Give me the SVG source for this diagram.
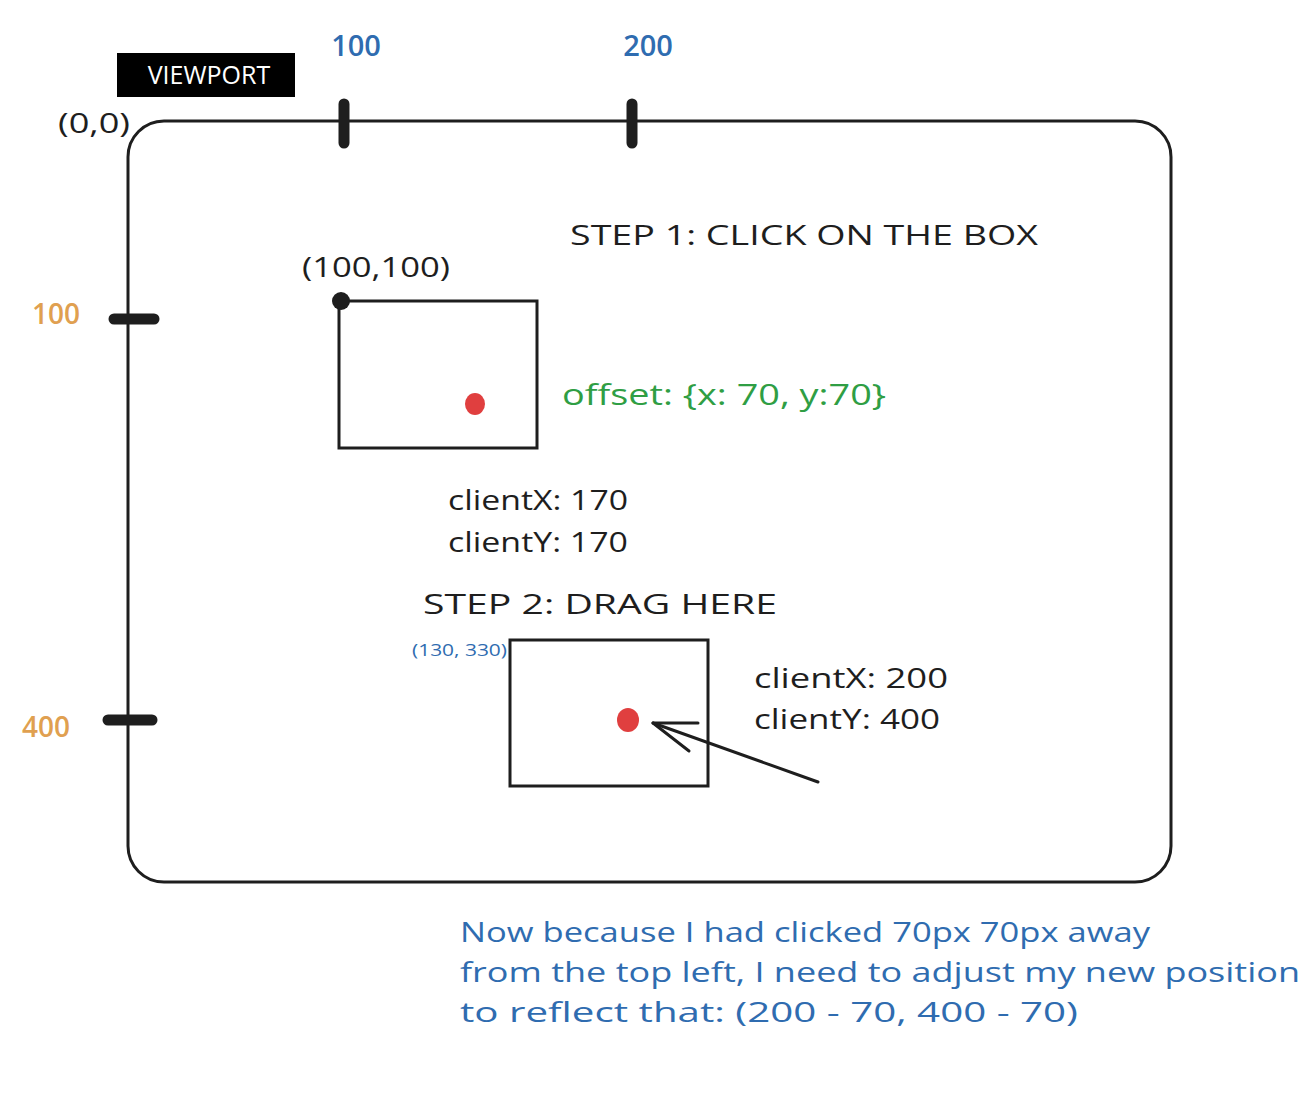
<svg xmlns="http://www.w3.org/2000/svg" width="1316" height="1094" viewBox="0 0 1316 1094">
<style>
text{font-family:"Open Sans","Liberation Sans",sans-serif;}
.k{fill:#1e1e1e;font-size:28px;}
.b{fill:#2f6cb0;}
.o{fill:#e0a050;font-size:28px;font-weight:600;}
.g{fill:#2f9e44;font-size:30px;}
.frame{fill:none;stroke:#1e1e1e;stroke-width:3;}
.tick{stroke:#1e1e1e;stroke-width:11;stroke-linecap:round;}
.box{fill:#fff;stroke:#1e1e1e;stroke-width:3;}
.red{fill:#e03f3f;}
</style>
<rect width="1316" height="1094" fill="#fff"/>
<g id="viewport">
<rect class="frame" x="128" y="121" width="1043" height="761" rx="36"/>
<line class="tick" x1="344" y1="104" x2="344" y2="143"/>
<line class="tick" x1="632" y1="104" x2="632" y2="143"/>
<line class="tick" x1="114" y1="319" x2="154" y2="319"/>
<line class="tick" x1="108" y1="720" x2="152" y2="720"/>
</g>
<g id="label-viewport">
<rect x="117" y="53" width="178" height="44" fill="#000"/>
<text x="209" y="84" fill="#fff" font-size="25" font-weight="500" text-anchor="middle">VIEWPORT</text>
</g>
<g id="axis-labels">
<text class="b" x="356" y="56" font-size="29" font-weight="600" text-anchor="middle">100</text>
<text class="b" x="648" y="56" font-size="29" font-weight="600" text-anchor="middle">200</text>
<text class="o" x="56" y="324" text-anchor="middle">100</text>
<text class="o" x="46" y="737" text-anchor="middle">400</text>
<text class="k" x="58" y="133" font-size="26" textLength="72" lengthAdjust="spacingAndGlyphs">(0,0)</text>
</g>
<g id="step1">
<text class="k" x="570" y="245" textLength="468" lengthAdjust="spacingAndGlyphs">STEP 1: CLICK ON THE BOX</text>
</g>
<g id="box1">
<rect class="box" x="339" y="301" width="198" height="147"/>
<circle cx="341" cy="301" r="9" fill="#1e1e1e"/>
<ellipse class="red" cx="475" cy="404" rx="10" ry="11"/>
<text class="k" x="302" y="277" textLength="148" lengthAdjust="spacingAndGlyphs">(100,100)</text>
</g>
<g id="offset">
<text class="g" x="562" y="405" textLength="324" lengthAdjust="spacingAndGlyphs">offset: {x: 70, y:70}</text>
</g>
<g id="client1">
<text class="k" x="448" y="510" textLength="180" lengthAdjust="spacingAndGlyphs">clientX: 170</text>
<text class="k" x="448" y="552" textLength="180" lengthAdjust="spacingAndGlyphs">clientY: 170</text>
</g>
<g id="step2">
<text class="k" x="423" y="614" textLength="354" lengthAdjust="spacingAndGlyphs">STEP 2: DRAG HERE</text>
</g>
<g id="box2">
<rect class="box" x="510" y="640" width="198" height="146"/>
<ellipse class="red" cx="628" cy="720" rx="11" ry="12"/>
<text class="b" x="412" y="656" font-size="16" textLength="95" lengthAdjust="spacingAndGlyphs">(130, 330)</text>
</g>
<g id="client2">
<text class="k" x="754" y="688" textLength="194" lengthAdjust="spacingAndGlyphs">clientX: 200</text>
<text class="k" x="754" y="729" textLength="186" lengthAdjust="spacingAndGlyphs">clientY: 400</text>
</g>
<g id="connectors" fill="none" stroke="#1e1e1e" stroke-width="3" stroke-linecap="round">
<path d="M818 782 L653 723"/>
<path d="M653 723 L698 723 M653 723 L689 751"/>
</g>
<g id="note">
<text class="b" font-size="28" x="460" y="942" textLength="690" lengthAdjust="spacingAndGlyphs">Now because I had clicked 70px 70px away</text>
<text class="b" font-size="28" x="460" y="982" textLength="840" lengthAdjust="spacingAndGlyphs">from the top left, I need to adjust my new position</text>
<text class="b" font-size="28" x="460" y="1022" textLength="618" lengthAdjust="spacingAndGlyphs">to reflect that:  (200 - 70, 400 - 70)</text>
</g>
</svg>
